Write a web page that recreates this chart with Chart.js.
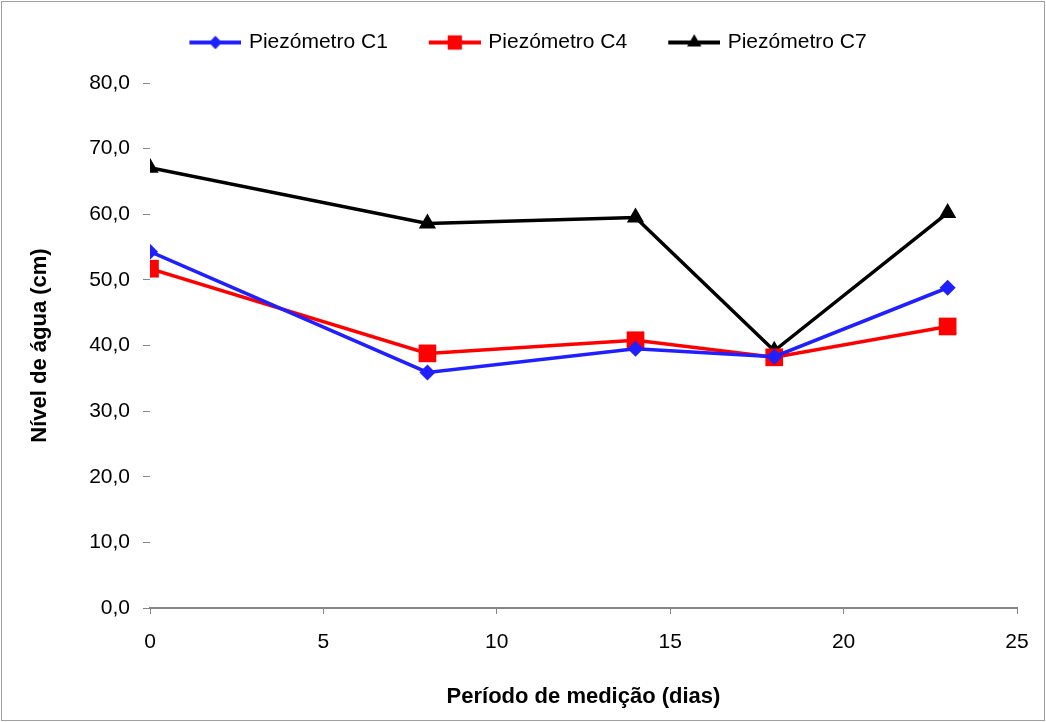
<!DOCTYPE html>
<html>
<head>
<meta charset="utf-8">
<script src="https://cdn.jsdelivr.net/npm/chart.js@4"></script>
<style>
  html, body { margin: 0; padding: 0; background: #fff; }
  #wrap { width: 1046px; height: 722px; }
</style>
</head>
<body>
<div id="wrap"><canvas id="grafico"></canvas></div>
<script>
// dias de medição
const dias = [0, 8, 14, 18, 23];
// nível de água (cm)
const c1 = [54.3, 35.9, 39.5, 38.3, 48.8];
const c4 = [51.7, 38.8, 40.8, 38.2, 42.9];
const c7 = [67.1, 58.6, 59.5, 39.2, 60.2];
const nomes = ['Piezómetro C1', 'Piezómetro C4', 'Piezómetro C7'];
const cores = ['#1f1fff', '#ff0000', '#000000'];
const marcadores = ['rectRot', 'rect', 'triangle'];
const raios = [8, 12.5, 10];

const fonte = 'Liberation Sans, Arial, sans-serif';

function pontos(valores) {
    return dias.map((d, i) => ({ x: d, y: valores[i] }));
}

// pequena imagem com linha + marcador para a legenda
function iconeLegenda(cor, estilo, raio) {
    const c = document.createElement('canvas');
    c.width = 76;
    c.height = 22;
    const ctx = c.getContext('2d');
    ctx.strokeStyle = cor;
    ctx.lineWidth = 4;
    ctx.beginPath();
    ctx.moveTo(24, 11);
    ctx.lineTo(76, 11);
    ctx.stroke();
    ctx.fillStyle = cor;
    Chart.helpers.drawPoint(ctx, { pointStyle: estilo, radius: raio * 0.8, rotation: 0, borderWidth: 0 }, 50, 11);
    ctx.fill();
    return c;
}

const series = [c1, c4, c7];

const moldura = {
    id: 'moldura',
    beforeDraw(chart) {
        const ctx = chart.ctx;
        ctx.save();
        ctx.fillStyle = '#fff';
        ctx.fillRect(0, 0, chart.width, chart.height);
        ctx.strokeStyle = '#a0a0a0';
        ctx.lineWidth = 1;
        ctx.strokeRect(1.5, 1.5, chart.width - 3, chart.height - 3);
        ctx.restore();
    }
};

document.addEventListener('DOMContentLoaded', function () {
    const icones = series.map((s, i) => iconeLegenda(cores[i], marcadores[i], raios[i]));
    const ctx = document.getElementById('grafico').getContext('2d');
    new Chart(ctx, {
        type: 'line',
        data: {
            datasets: series.map((s, i) => ({
                label: nomes[i],
                data: pontos(s),
                borderColor: cores[i],
                backgroundColor: cores[i],
                borderWidth: 3.5,
                pointStyle: marcadores[i],
                pointRadius: raios[i],
                pointHoverRadius: raios[i],
                pointBorderWidth: 0,
                tension: 0
            }))
        },
        options: {
            responsive: true,
            maintainAspectRatio: false,
            animation: false,
            layout: { padding: { top: 12, left: 18, right: 29, bottom: 4 } },
            plugins: {
                tooltip: { enabled: false },
                // título vazio: só serve de espaço entre a legenda e o gráfico
                title: {
                    display: true,
                    text: '',
                    weight: 500,
                    font: { size: 10 },
                    padding: { top: 0, bottom: 8 }
                },
                legend: {
                    position: 'top',
                    labels: {
                        usePointStyle: true,
                        pointStyleWidth: 70,
                        padding: 20,
                        color: '#000',
                        font: { family: fonte, size: 21 },
                        generateLabels(chart) {
                            return chart.data.datasets.map((ds, i) => ({
                                text: ds.label,
                                pointStyle: icones[i],
                                fillStyle: cores[i],
                                strokeStyle: cores[i],
                                lineWidth: 0,
                                hidden: false,
                                datasetIndex: i,
                                fontColor: '#000'
                            }));
                        }
                    }
                }
            },
            scales: {
                x: {
                    type: 'linear',
                    min: 0,
                    max: 25,
                    afterFit(scale) { scale.height = 110; },
                    ticks: {
                        stepSize: 5,
                        padding: 16,
                        color: '#000',
                        font: { family: fonte, size: 21 }
                    },
                    grid: { drawOnChartArea: false, drawTicks: true, tickLength: 6, color: '#868686' },
                    border: { display: true, color: '#868686', width: 2 },
                    title: {
                        display: true,
                        text: 'Período de medição (dias)',
                        color: '#000',
                        font: { family: fonte, size: 22, weight: 'bold' },
                        padding: { top: 4, bottom: 8 }
                    }
                },
                y: {
                    min: 0,
                    max: 80,
                    afterFit(scale) { scale.width = 132; },
                    ticks: {
                        stepSize: 10,
                        padding: 13,
                        color: '#000',
                        font: { family: fonte, size: 21 },
                        callback: v => v.toFixed(1).replace('.', ',')
                    },
                    grid: { drawOnChartArea: false, drawTicks: true, tickLength: 7, color: '#868686' },
                    border: { display: false },
                    title: {
                        display: true,
                        text: 'Nível de água (cm)',
                        color: '#000',
                        font: { family: fonte, size: 22, weight: 'bold' },
                        padding: { top: 9, bottom: 4 }
                    }
                }
            }
        },
        plugins: [moldura]
    });
});
</script>
</body>
</html>
